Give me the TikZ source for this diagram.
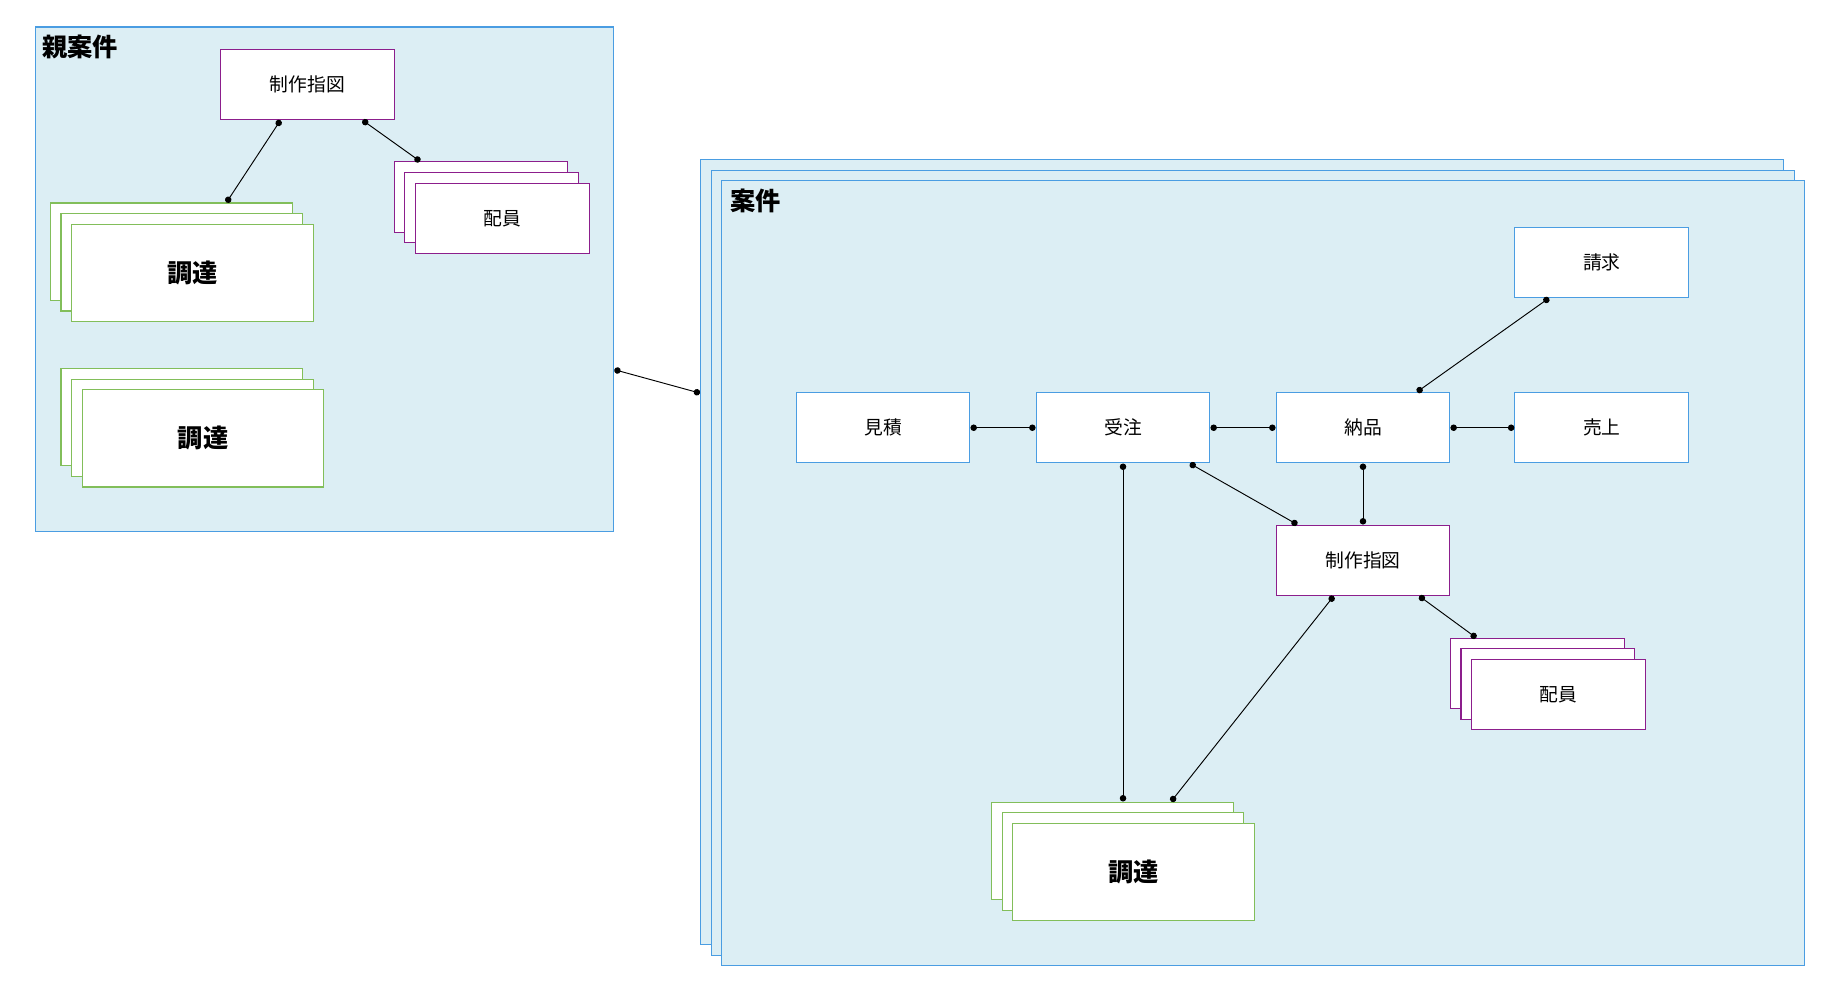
\documentclass[tikz,border=0pt]{standalone}
\usepackage{fontspec}
\setmainfont{Noto Sans CJK JP}
\usetikzlibrary{arrows.meta}
\definecolor{bluebd}{RGB}{74,157,226}
\definecolor{bluefill}{RGB}{220,238,244}
\definecolor{purplebd}{RGB}{140,30,140}
\definecolor{greenbd}{RGB}{130,190,90}
\tikzset{
  frame/.style={draw=bluebd, fill=bluefill, line width=0.9pt, inner sep=0pt, outer sep=0.5pt},
  bluebox/.style={draw=bluebd, fill=white, line width=0.9pt, minimum width=148pt, minimum height=60pt, inner sep=0pt, outer sep=0.5pt, font=\fontsize{16}{19}\selectfont},
  purplebox/.style={bluebox, draw=purplebd},
  greenbox/.style={draw=greenbd, fill=white, line width=0.9pt, minimum width=206pt, minimum height=83pt, inner sep=0pt, outer sep=0.5pt, font=\fontsize{21.5}{24}\selectfont\bfseries},
  title/.style={anchor=west, inner sep=0pt, font=\fontsize{21.5}{24}\selectfont\bfseries},
  conn/.style={draw=black, line width=0.8pt, {Circle[length=5.5pt]}-{Circle[length=5.5pt]}}
}
\begin{document}
\begin{tikzpicture}[x=1pt, y=-1pt]
\useasboundingbox (0,0) rectangle (1568,844);

% parent project
\node[frame, minimum width=493pt, minimum height=430pt] (parent) at (276.5,238) {};
\node[title] (parentlbl) at (36,40) {親案件};
\node[purplebox] (pinst) at (262,72) {制作指図};
\node[purplebox] (pstaffA) at (410,168) {};
\node[purplebox] (pstaffB) at (419,177) {};
\node[purplebox] (pstaffC) at (428,186) {配員};
\node[greenbox] (pprocA) at (146,214.5) {};
\node[greenbox] (pprocB) at (155,223.5) {};
\node[greenbox] (pprocC) at (164,232.5) {調達};
\node[greenbox] (pprocD) at (155,355.5) {};
\node[greenbox] (pprocE) at (164,364.5) {};
\node[greenbox] (pprocF) at (173,373.5) {調達};

% project stack
\node[frame, minimum width=923pt, minimum height=669pt] (projA) at (1058.5,470.5) {};
\node[frame, minimum width=923pt, minimum height=669pt] (projB) at (1067.5,479.5) {};
\node[frame, minimum width=923pt, minimum height=669pt] (projC) at (1076.5,488.5) {};
\node[title] (projlbl) at (622,171) {案件};

\node[bluebox] (est) at (752.5,364.5) {見積};
\node[bluebox] (ord) at (957,364.5) {受注};
\node[bluebox] (dlv) at (1161.5,364.5) {納品};
\node[bluebox] (sales) at (1365,364.5) {売上};
\node[bluebox] (bill) at (1365,223.5) {請求};
\node[purplebox] (inst) at (1161.5,477.5) {制作指図};
\node[purplebox] (staffA) at (1310,574) {};
\node[purplebox] (staffB) at (1319,583) {};
\node[purplebox] (staffC) at (1328,592) {配員};
\node[greenbox] (procA) at (948,725) {};
\node[greenbox] (procB) at (957,734) {};
\node[greenbox] (procC) at (966,743) {調達};

% connectors
\draw[conn] ([xshift=-23pt]pinst.south) -- ([xshift=47pt]pprocA.north);
\draw[conn] ([xshift=47pt]pinst.south) -- ([xshift=-52pt]pstaffA.north);
\draw[conn] ([yshift=-77pt]parent.east) -- ([yshift=135.5pt]projA.west);
\draw[conn] (est.east) -- (ord.west);
\draw[conn] (ord.east) -- (dlv.west);
\draw[conn] (dlv.east) -- (sales.west);
\draw[conn] ([xshift=-45pt]bill.south) -- ([xshift=46pt]dlv.north);
\draw[conn] ([xshift=57pt]ord.south) -- ([xshift=-56pt]inst.north);
\draw[conn] (dlv.south) -- (inst.north);
\draw[conn] (ord.south) -- ([xshift=9pt]procA.north);
\draw[conn] ([xshift=-25pt]inst.south) -- ([xshift=50pt]procA.north);
\draw[conn] ([xshift=48pt]inst.south) -- ([xshift=-52pt]staffA.north);
\end{tikzpicture}
\end{document}
